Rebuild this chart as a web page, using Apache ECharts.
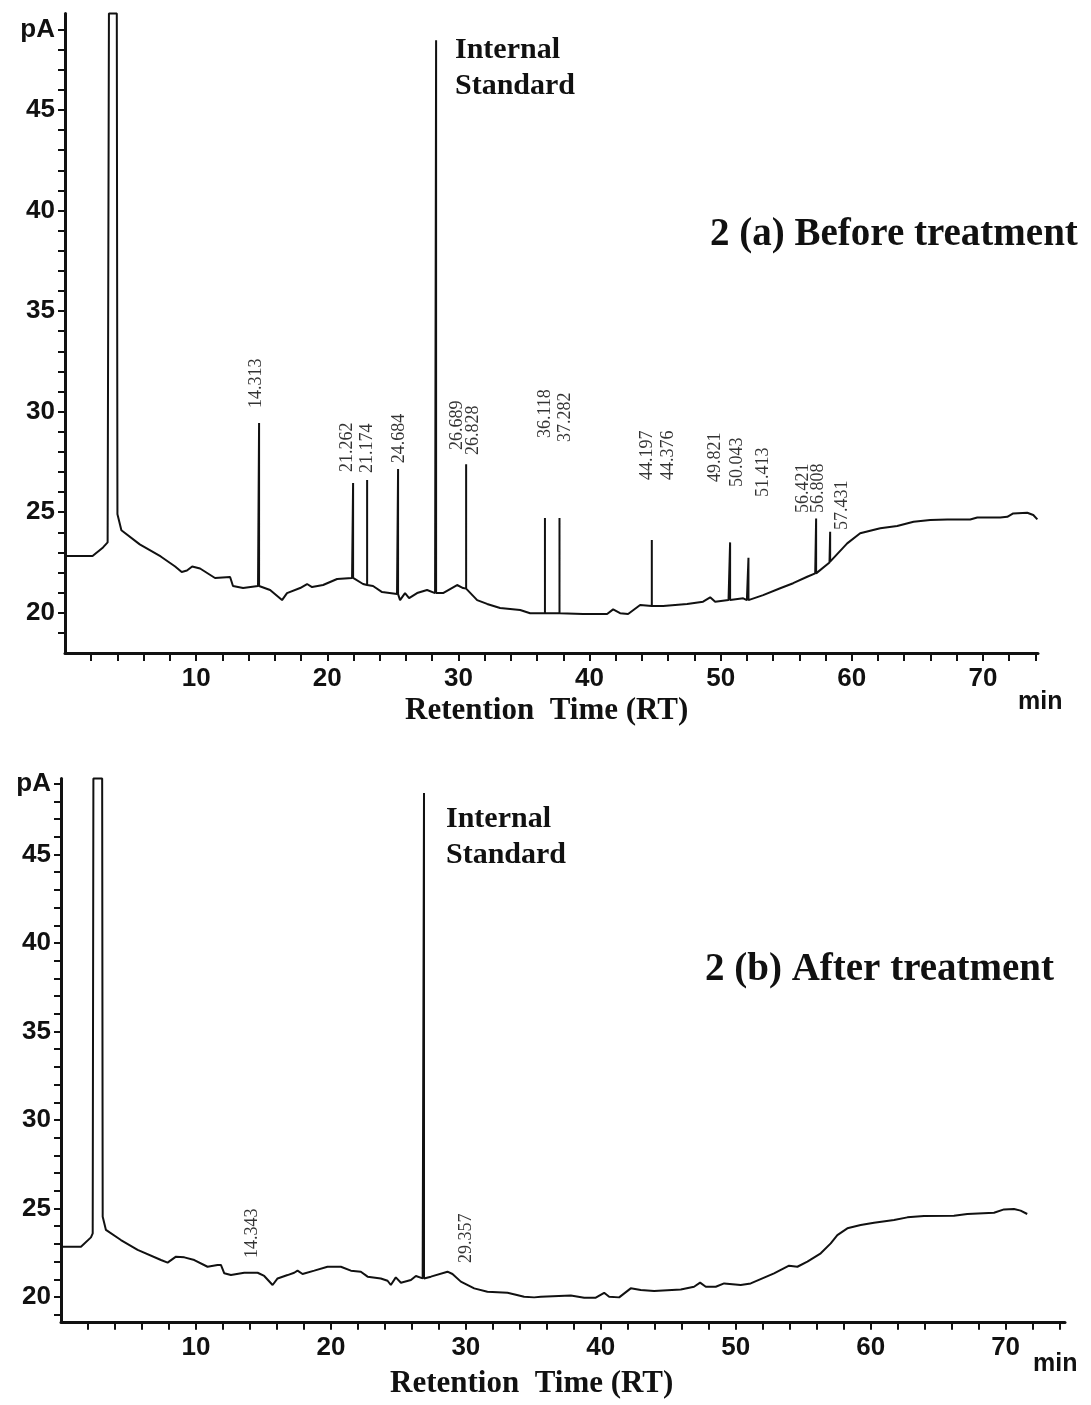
<!DOCTYPE html>
<html>
<head>
<meta charset="utf-8">
<script src="https://cdn.jsdelivr.net/npm/echarts@6/dist/echarts.min.js"></script>
<style>
html, body { margin: 0; padding: 0; background: #fff; }
#chart { width: 1091px; height: 1405px; }
</style>
</head>
<body>
<div id="chart"></div>
<script>
// axis ticks (minutes / pA)
const xTicks = [2, 4, 6, 8, 10, 12, 14, 16, 18, 20, 22, 24, 26, 28, 30, 32, 34, 36, 38, 40, 42, 44, 46, 48, 50, 52, 54, 56, 58, 60, 62, 64, 66, 68, 70, 72, 74];
const xLabels = [10, 20, 30, 40, 50, 60, 70];
const yTicks = [19, 20, 21, 22, 23, 24, 25, 26, 27, 28, 29, 30, 31, 32, 33, 34, 35, 36, 37, 38, 39, 40, 41, 42, 43, 44, 45, 46, 47, 48, 49];
const yLabels = [20, 25, 30, 35, 40, 45, 49];

// 2 (a) before treatment - trace baseline [min, pA]
const baseA = [
  [0, 22.82], [2.1, 22.82], [2.9, 23.25], [3.25, 23.5], [3.35, 49.8], [3.95, 49.8], [4.0, 24.9],
  [4.3, 24.1], [5.7, 23.4], [7.3, 22.8], [8.4, 22.3], [8.9, 22.03], [9.3, 22.1], [9.7, 22.3],
  [10.3, 22.2], [11.44, 21.73], [12.59, 21.78], [12.81, 21.33], [13.58, 21.23], [14.72, 21.33],
  [15.64, 21.13], [16.55, 20.63], [16.93, 20.98], [17.93, 21.23], [18.46, 21.43], [18.84, 21.28],
  [19.68, 21.38], [20.75, 21.68], [21.89, 21.73], [22.73, 21.43], [23.49, 21.33], [24.18, 21.03],
  [25.32, 20.93], [25.55, 20.63], [25.93, 20.98], [26.24, 20.73], [26.85, 20.98], [27.61, 21.13],
  [28.22, 20.98], [28.83, 20.98], [29.9, 21.38], [30.36, 21.23], [31.43, 20.63], [32.19, 20.44],
  [33.18, 20.24], [34.71, 20.14], [35.47, 19.98], [37.76, 19.98], [39.51, 19.94], [41.34, 19.94],
  [41.8, 20.17], [42.33, 19.98], [42.94, 19.94], [43.86, 20.39], [44.77, 20.34], [45.61, 20.34],
  [47.44, 20.44], [48.66, 20.55], [49.2, 20.77], [49.58, 20.55], [50.6, 20.63], [51.72, 20.72],
  [52.0, 20.63], [53.24, 20.88], [54.54, 21.22], [55.53, 21.47], [56.6, 21.79], [57.21, 21.96],
  [58.3, 22.5], [59.65, 23.45], [60.64, 23.95], [62.17, 24.2], [63.46, 24.31], [64.71, 24.53],
  [65.98, 24.61], [67.28, 24.64], [69.03, 24.64], [69.57, 24.74], [71.32, 24.74], [71.86, 24.77],
  [72.31, 24.94], [73.38, 24.97], [73.84, 24.86], [74.15, 24.64]
];
// peaks [min, base pA, top pA]
const peaksA = [
  [14.8, 21.33, 29.43], [21.97, 21.73, 26.45], [23.04, 21.38, 26.6], [25.4, 20.93, 27.15],
  [28.3, 20.98, 48.47], [30.59, 21.2, 27.39], [36.6, 19.98, 24.71], [37.71, 19.98, 24.71],
  [44.75, 20.34, 23.62], [50.72, 20.63, 23.5], [52.12, 20.63, 22.74], [57.28, 21.96, 24.69],
  [58.35, 22.54, 24.03]
];
const labelTextA = ['14.313', '21.262', '21.174', '24.684', '26.689', '26.828', '36.118', '37.282',
  '44.197', '44.376', '49.821', '50.043', '51.413', '56.421', '56.808', '57.431'];
const labelAtA = [
  [14.57, 30.18], [21.51, 27.0], [23.04, 26.95], [25.48, 27.44], [29.9, 28.09], [31.12, 27.84],
  [36.61, 28.69], [38.14, 28.49], [44.39, 26.6], [45.99, 26.6], [49.58, 26.5], [51.26, 26.25],
  [53.24, 25.75], [56.29, 24.96], [57.44, 24.96], [59.27, 24.11]
];

// 2 (b) after treatment
const baseB = [
  [0, 22.84], [1.48, 22.84], [2.22, 23.37], [2.35, 23.6], [2.4, 49.3], [3.05, 49.3], [3.09, 24.54],
  [3.33, 23.79], [4.44, 23.22], [5.68, 22.66], [7.41, 22.09], [7.9, 21.94], [8.52, 22.28],
  [9.14, 22.24], [9.88, 22.09], [10.86, 21.71], [11.6, 21.81], [11.85, 21.81], [12.1, 21.34],
  [12.59, 21.24], [13.58, 21.37], [14.57, 21.37], [15.06, 21.19], [15.68, 20.68], [16.05, 21.05],
  [16.79, 21.24], [17.28, 21.37], [17.53, 21.49], [17.9, 21.3], [18.77, 21.49], [19.75, 21.71],
  [20.74, 21.71], [21.48, 21.49], [22.22, 21.43], [22.72, 21.15], [23.7, 21.05], [24.2, 20.92],
  [24.44, 20.68], [24.81, 21.11], [25.19, 20.81], [25.93, 20.96], [26.3, 21.19], [26.8, 21.05],
  [27.41, 21.15], [28.64, 21.43], [29.01, 21.3], [29.63, 20.87], [30.62, 20.49], [31.6, 20.3],
  [33.09, 20.24], [34.32, 20.02], [35.06, 19.98], [35.56, 20.02], [37.78, 20.09], [38.77, 19.96],
  [39.63, 19.96], [40.25, 20.24], [40.62, 20.02], [41.36, 19.98], [42.22, 20.49], [42.96, 20.4],
  [43.95, 20.34], [45.93, 20.43], [46.91, 20.58], [47.36, 20.81], [47.78, 20.58], [48.52, 20.58],
  [49.14, 20.77], [50.37, 20.68], [51.11, 20.77], [52.84, 21.34], [53.95, 21.77], [54.57, 21.71],
  [55.31, 22.0], [56.3, 22.47], [57.04, 23.03], [57.53, 23.5], [58.27, 23.88], [59.26, 24.07],
  [60.25, 24.2], [61.73, 24.35], [62.72, 24.5], [63.95, 24.58], [66.17, 24.59], [67.16, 24.69],
  [69.14, 24.76], [69.88, 24.95], [70.62, 24.97], [71.11, 24.88], [71.6, 24.69]
];
const peaksB = [[26.9, 21.05, 48.47]];
const labelTextB = ['14.343', '29.357'];
const labelAtB = [[14.2, 22.2], [30.0, 21.92]];

const ink = '#111';
const sans = 'Liberation Sans';
const serif = 'Liberation Serif';

// merge baseline and vertical peak strokes into one trace
function trace(base, peaks) {
  const pts = base.map(p => [p[0], p[1], 0]);
  peaks.forEach(p => {
    pts.push([p[0], p[1], 1], [p[0], p[2], 2], [p[0], p[1], 3]);
  });
  pts.sort((a, b) => a[0] - b[0] || a[2] - b[2]);
  return pts.map(p => [p[0], p[1]]);
}

function xAxisCfg(gi, max) {
  return {
    type: 'value', gridIndex: gi, min: 0, max: max,
    axisLine: { lineStyle: { color: ink, width: 3 } },
    axisTick: { customValues: xTicks, length: 8, lineStyle: { color: ink, width: 2 } },
    axisLabel: {
      customValues: xLabels, margin: 13, color: ink,
      fontFamily: sans, fontWeight: 'bold', fontSize: 26
    },
    splitLine: { show: false }
  };
}

function yAxisCfg(gi, min, max) {
  return {
    type: 'value', gridIndex: gi, min: min, max: max,
    axisLine: { lineStyle: { color: ink, width: 3 } },
    axisTick: { customValues: yTicks, length: 7, lineStyle: { color: ink, width: 2 } },
    axisLabel: {
      customValues: yLabels, margin: 10, color: ink,
      fontFamily: sans, fontWeight: 'bold', fontSize: 26,
      formatter: v => (v === 49 ? 'pA' : String(v))
    },
    splitLine: { show: false }
  };
}

function labelSeries(idx, at, text) {
  return {
    type: 'scatter', xAxisIndex: idx, yAxisIndex: idx, silent: true,
    symbolSize: 1, itemStyle: { color: 'rgba(0,0,0,0)' },
    data: at.map((p, i) => ({ value: p, name: text[i] })),
    label: {
      show: true, position: 'inside', rotate: 90, align: 'left', verticalAlign: 'middle',
      formatter: '{b}', fontFamily: serif, fontSize: 18, color: '#000'
    }
  };
}

function lineSeries(idx, data) {
  return {
    type: 'line', xAxisIndex: idx, yAxisIndex: idx, data: data,
    showSymbol: false, clip: false, animation: false,
    lineStyle: { color: ink, width: 2 }
  };
}

function txt(x, y, s, size, font) {
  return {
    type: 'text', left: x, top: y,
    style: { text: s, font: 'bold ' + size + 'px "' + (font || serif) + '"', fill: ink }
  };
}

const chart = echarts.init(document.getElementById('chart'));
chart.setOption({
  backgroundColor: '#fff',
  animation: false,
  grid: [
    { left: 65, top: 13.4, width: 973, height: 639.6 },
    { left: 61, top: 778.4, width: 1004, height: 543.4 }
  ],
  xAxis: [xAxisCfg(0, 74.2), xAxisCfg(1, 74.4)],
  yAxis: [yAxisCfg(0, 18, 49.8), yAxisCfg(1, 18.6, 49.3)],
  series: [
    lineSeries(0, trace(baseA, peaksA)),
    lineSeries(1, trace(baseB, peaksB)),
    labelSeries(0, labelAtA, labelTextA),
    labelSeries(1, labelAtB, labelTextB)
  ],
  graphic: [
    txt(455, 35, 'Internal', 30),
    txt(455, 71, 'Standard', 30),
    txt(710, 215, '2 (a) Before treatment', 39),
    txt(405, 695, 'Retention  Time (RT)', 31),
    txt(1018, 690, 'min', 25, sans),
    txt(446, 804, 'Internal', 30),
    txt(446, 840, 'Standard', 30),
    txt(705, 950, '2 (b) After treatment', 39),
    txt(390, 1368, 'Retention  Time (RT)', 31),
    txt(1033, 1352, 'min', 25, sans)
  ]
});
</script>
</body>
</html>
